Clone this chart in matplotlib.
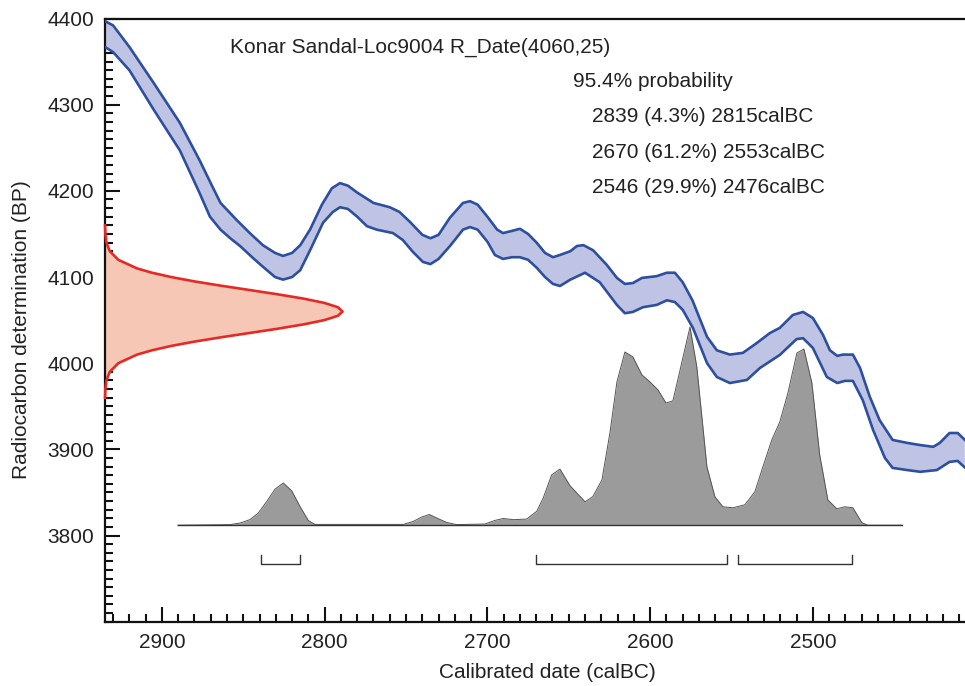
import numpy as np
import matplotlib
matplotlib.use("Agg")
import matplotlib.pyplot as plt
from matplotlib.ticker import MultipleLocator

plt.rcParams['font.family'] = ['Liberation Sans', 'DejaVu Sans']

# calibration curve, upper and lower edge (calBC, BP)
cal_up = [2935, 2930, 2920, 2905, 2889, 2877, 2869, 2864, 2854, 2846, 2838, 2830.5, 2825.6, 2820,
          2815, 2809, 2801.7, 2795.6, 2790.6, 2785.7, 2780, 2770, 2760, 2754, 2747.6, 2740, 2735,
          2730, 2723, 2715, 2710.7, 2706, 2700, 2694, 2690.4, 2685, 2680, 2675, 2669.6, 2664.6,
          2659.7, 2655.4, 2649, 2645, 2641, 2635, 2626.6, 2620.4, 2615.5, 2610.6, 2605, 2596,
          2589.7, 2584.8, 2580, 2574, 2565, 2559, 2551, 2543, 2534.4, 2526.4, 2520.3, 2512.3, 2506,
          2500, 2493.8, 2489.5, 2485, 2481.5, 2475.4, 2471, 2465, 2459, 2451, 2442, 2434, 2426,
          2422, 2416, 2411, 2406.6]
bp_up = [4397, 4392, 4367, 4325, 4279, 4236, 4205, 4186, 4166, 4151, 4137, 4128, 4124.5, 4128,
         4137, 4155, 4184, 4203, 4209, 4206, 4198, 4186, 4181, 4175.5, 4164, 4149, 4145,
         4149, 4169, 4186, 4188, 4184, 4170, 4155, 4151, 4153.5, 4156, 4150, 4139.6, 4128,
         4123, 4125.6, 4130, 4136, 4137, 4131, 4114, 4099, 4092, 4093, 4099, 4101,
         4105, 4105, 4094, 4073, 4030.5, 4015, 4010, 4012, 4023.5, 4035, 4041, 4056, 4059.5,
         4052.5, 4033, 4015, 4008.5, 4010, 4010, 3994.5, 3961, 3934, 3911, 3907.5, 3905, 3903,
         3907.5, 3919, 3919, 3911]

cal_lo = [2935, 2930, 2920, 2905, 2889, 2877, 2870.5, 2864, 2858, 2852, 2844, 2838, 2830.5, 2825.6,
          2820, 2815, 2809, 2801, 2795, 2790.6, 2785.7, 2780, 2774, 2768, 2758, 2752, 2745.7,
          2739.6, 2735, 2730, 2723, 2715, 2710.7, 2706, 2700, 2695.4, 2690.4, 2685, 2680, 2675,
          2669.6, 2664.6, 2659.7, 2655.4, 2649, 2640, 2631, 2620.4, 2615.5, 2610.6, 2604.4, 2596,
          2589.7, 2584.8, 2580, 2573.7, 2565, 2559, 2551, 2540.5, 2532.5, 2520.3, 2510, 2506, 2500,
          2491.4, 2485, 2480.3, 2475.4, 2469.3, 2463, 2455.7, 2451, 2442, 2434, 2423.8, 2416,
          2411, 2406.6]
bp_lo = [4367, 4361, 4340, 4294, 4247, 4198, 4170, 4155, 4145, 4136, 4122, 4112, 4100, 4097,
         4100, 4108, 4131, 4163, 4175.5, 4181, 4179, 4170, 4159, 4155, 4151, 4143, 4129,
         4117.5, 4115, 4121, 4136, 4155, 4158, 4155, 4141, 4125.6, 4121, 4123, 4123, 4120,
         4110.6, 4100, 4092, 4089.6, 4097, 4105, 4094, 4067.6, 4058, 4059.5, 4065, 4067.6,
         4073, 4071, 4062, 4041, 4000, 3984, 3977, 3980.6, 3994.5, 4009.6, 4028, 4029, 4017.7,
         3984, 3977, 3979.5, 3979.5, 3957, 3922.6, 3890, 3878.5, 3876, 3874, 3876, 3885.5,
         3886.6, 3879]

# calibrated probability distribution (relative)
hist_cal = [2890.2, 2858.2, 2852, 2846, 2840.8, 2835.6, 2830.5, 2825.4, 2820.3, 2815.2, 2810, 2806,
            2751.7, 2745.6, 2740.4, 2735.7, 2730.2, 2725, 2718.9, 2701.5, 2695.4, 2690.3, 2684.1,
            2675.9, 2669.7, 2665.7, 2660.5, 2655.4, 2649.3, 2640, 2635.2, 2629.6, 2624.7, 2620.4,
            2615.5, 2610.6, 2605, 2600.1, 2595.2, 2590.3, 2586, 2575.5, 2571.3, 2565.1, 2560.2,
            2555.3, 2549.1, 2541.8, 2535.6, 2530.7, 2525.2, 2520.3, 2515.3, 2509.8, 2505.5, 2500.6,
            2495.8, 2490.8, 2485.3, 2480.4, 2475.4, 2469.9, 2466.2, 2445.3]
hist_p = [0, 0.003, 0.011, 0.028, 0.061, 0.12, 0.182, 0.213, 0.174, 0.095, 0.023, 0.004,
          0.004, 0.019, 0.041, 0.054, 0.033, 0.014, 0.003, 0.006, 0.024, 0.034, 0.028,
          0.031, 0.07, 0.137, 0.254, 0.283, 0.2, 0.118, 0.144, 0.229, 0.466, 0.723,
          0.874, 0.849, 0.758, 0.723, 0.683, 0.617, 0.627, 1.0, 0.798, 0.295, 0.144,
          0.093, 0.088, 0.103, 0.169, 0.295, 0.431, 0.521, 0.668, 0.869, 0.889, 0.718,
          0.355, 0.128, 0.083, 0.093, 0.088, 0.013, 0, 0]

# radiocarbon date R_Date(4060,25), relative density
rd_bp = [4160, 4150, 4140, 4130, 4120, 4110, 4105, 4100, 4095, 4090, 4085, 4080, 4075, 4070, 4065,
         4060, 4055, 4050, 4045, 4040, 4035, 4030, 4025, 4020, 4015, 4010, 4000, 3990, 3980,
         3970, 3960]
rd_p = [0.0003, 0.0015, 0.006, 0.02, 0.056, 0.135, 0.198, 0.278, 0.375, 0.487, 0.607, 0.726,
        0.835, 0.923, 0.98, 1.0, 0.98, 0.923, 0.835, 0.726, 0.607, 0.487, 0.375, 0.278, 0.198,
        0.135, 0.056, 0.02, 0.006, 0.0015, 0.0003]

ranges = [(2839, 2815), (2670, 2553), (2546, 2476)]
title = 'Konar Sandal-Loc9004 R_Date(4060,25)'
prob_lines = ['95.4% probability',
              '2839 (4.3%) 2815calBC',
              '2670 (61.2%) 2553calBC',
              '2546 (29.9%) 2476calBC']

xmin, xmax = 2935, 2406.5
ymin, ymax = 3700, 4400
fs = 15

fig = plt.figure(figsize=(9.65, 6.86), dpi=100)
ax = fig.add_axes([0.1088, 0.0937, 0.8912, 0.8793])
ax.set_xlim(xmin, xmax)
ax.set_ylim(ymin, ymax)

# calibration curve band
poly_x = np.r_[cal_up, cal_lo[::-1]]
poly_y = np.r_[bp_up, bp_lo[::-1]]
ax.fill(poly_x, poly_y, color='#c0c4e4', lw=0, zorder=2)
ax.plot(cal_up, bp_up, color='#2d4f9e', lw=1.9, zorder=3)
ax.plot(cal_lo, bp_lo, color='#2d4f9e', lw=1.9, zorder=3)

# radiocarbon date on the y axis
rd_x = xmin - np.array(rd_p) * 146
ax.fill_betweenx(rd_bp, xmin, rd_x, color='#f7c7b6', lw=0, zorder=2)
ax.plot(rd_x, rd_bp, color='#e52a25', lw=1.9, zorder=3, clip_on=False)

# calibrated distribution
base = 3812
hist_y = base + np.array(hist_p) * 230
ax.fill_between(hist_cal, base, hist_y, color='#9b9b9b', lw=0, zorder=4)
ax.plot(hist_cal, hist_y, color='#555555', lw=0.7, zorder=4)
ax.plot([hist_cal[0], hist_cal[-1]], [base, base], color='#333333', lw=1.0, zorder=5)

# 95.4% ranges
for a, b in ranges:
    ax.plot([a, a, b, b], [3777, 3767, 3767, 3777], color='#333333', lw=1.0, zorder=5)

ax.text(2858, 4367, title, fontsize=fs, va='center', ha='left', color='#222222')
ax.text(2647.5, 4327, prob_lines[0], fontsize=fs, va='center', ha='left', color='#222222')
for i, s in enumerate(prob_lines[1:]):
    ax.text(2635.5, [4286, 4244, 4204][i], s, fontsize=fs, va='center', ha='left', color='#222222')

ax.spines['right'].set_visible(False)
for s in ['left', 'bottom', 'top']:
    ax.spines[s].set_linewidth(1.6)
    ax.spines[s].set_color('#111111')
ax.xaxis.set_major_locator(MultipleLocator(100))
ax.xaxis.set_minor_locator(MultipleLocator(10))
ax.yaxis.set_major_locator(MultipleLocator(100))
ax.yaxis.set_minor_locator(MultipleLocator(10))
ax.set_yticks([3800, 3900, 4000, 4100, 4200, 4300, 4400])
ax.tick_params(which='both', direction='in', top=False, right=False, width=1.5,
               color='#111111', labelsize=fs, labelcolor='#222222', pad=8)
ax.tick_params(which='major', length=10.5)
ax.tick_params(which='minor', length=5.5)

ax.set_xlabel('Calibrated date (calBC)', fontsize=fs, color='#222222')
ax.set_ylabel('Radiocarbon determination (BP)', fontsize=fs, color='#222222')
ax.xaxis.set_label_coords(0.5145, -0.069)
ax.yaxis.set_label_coords(-0.086, 0.485)

fig.savefig('out.png', dpi=100)
